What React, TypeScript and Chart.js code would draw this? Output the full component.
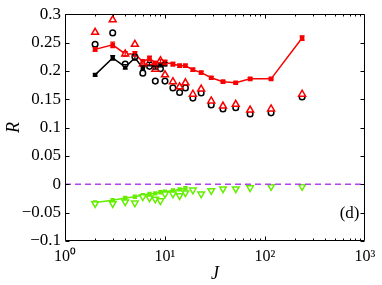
import React, { useEffect, useRef } from 'react';
import { Chart, registerables } from 'chart.js';
Chart.register(...registerables);

// ---- data ----
const ptJ = [2, 3, 4, 5, 6, 7, 8, 9, 10, 12, 14, 16, 19, 23, 29, 38, 51, 71, 115, 235];
const redLineR = [0.238, 0.246, 0.230, 0.230, 0.216, 0.222, 0.214, 0.217, 0.215, 0.212, 0.209, 0.209, 0.202, 0.197, 0.188, 0.181, 0.179, 0.186, 0.186, 0.258];
const redLineErr = [0.003, 0.005, 0.004, 0.004, 0.004, 0.004, 0.003, 0.003, 0.004, 0.003, 0.003, 0.003, 0.003, 0.002, 0.002, 0.002, 0.002, 0.002, 0.002, 0.004];
const blackJ = [2, 3, 4, 5, 6, 7, 8, 9, 10];
const blackLineR = [0.193, 0.223, 0.207, 0.223, 0.205, 0.212, 0.206, 0.210, 0.212];
const blackLineErr = [0.002, 0.004, 0.004, 0.004, 0.004, 0.003, 0.003, 0.003, 0.003];
const redTriR = [0.268, 0.290, 0.230, 0.247, 0.212, 0.215, 0.203, 0.218, 0.193, 0.181, 0.172, 0.179, 0.159, 0.168, 0.147, 0.138, 0.141, 0.131, 0.133, 0.159];
const blackCircR = [0.247, 0.267, 0.212, 0.225, 0.196, 0.208, 0.182, 0.204, 0.182, 0.170, 0.162, 0.170, 0.152, 0.161, 0.140, 0.133, 0.135, 0.124, 0.126, 0.154];
const greenTriR = [-0.034, -0.034, -0.031, -0.033, -0.022, -0.024, -0.026, -0.029, -0.017, -0.017, -0.020, -0.015, -0.010, -0.017, -0.011, -0.008, -0.008, -0.006, -0.004, -0.004];
const greenJ = [2, 3, 4, 5, 6, 7, 8, 9, 10, 12, 14, 16];
const greenLineR = [-0.032, -0.028, -0.024, -0.022, -0.019, -0.017, -0.016, -0.014, -0.013, -0.011, -0.009, -0.007];
const zeroJ = [1, 1000];
const zeroR = [0, 0];

const xMajor = [1, 10, 100, 1000];
const xLabels = ['10⁰', '10¹', '10²', '10³'];
const yTicks = [-0.1, -0.05, 0, 0.05, 0.1, 0.15, 0.2, 0.25, 0.3];
const panelLabel = '(d)';

const SERIF = '"Liberation Serif", "Times New Roman", serif';
const RED = '#f80000';
const GREEN = '#66ee00';
const PURPLE = '#b040f0';

const pts = (xs: number[], ys: number[]) => xs.map((x, i) => ({ x, y: ys[i] }));

const fmtY = (v: number) => {
  const s = String(Number(v.toFixed(2)));
  return s.replace('-', '\u2212');
};

const errPlugin = {
  id: 'errbars',
  afterDatasetsDraw(chart: any) {
    const { ctx, scales } = chart;
    const xs = scales.x, ys = scales.y;
    const draw = (J: number[], R: number[], E: number[], color: string) => {
      ctx.save();
      ctx.strokeStyle = color;
      ctx.lineWidth = 1.2;
      J.forEach((j, i) => {
        const px = xs.getPixelForValue(j);
        const y1 = ys.getPixelForValue(R[i] - E[i]);
        const y2 = ys.getPixelForValue(R[i] + E[i]);
        ctx.beginPath();
        ctx.moveTo(px, y1); ctx.lineTo(px, y2);
        ctx.moveTo(px - 2.5, y1); ctx.lineTo(px + 2.5, y1);
        ctx.moveTo(px - 2.5, y2); ctx.lineTo(px + 2.5, y2);
        ctx.stroke();
      });
      ctx.restore();
    };
    draw(blackJ, blackLineR, blackLineErr, '#000');
    draw(ptJ, redLineR, redLineErr, RED);
  },
};

const boxPlugin = {
  id: 'boxticks',
  afterDraw(chart: any) {
    const { ctx, chartArea: a, scales } = chart;
    const xs = scales.x, ys = scales.y;
    ctx.save();
    ctx.strokeStyle = '#000';
    ctx.lineWidth = 1;
    const L = Math.round(a.left) + 0.5, R = Math.round(a.right) - 0.5;
    const T = Math.round(a.top) + 0.5, B = Math.round(a.bottom) - 0.5;
    ctx.beginPath();
    ctx.rect(L, T, R - L, B - T);
    ctx.stroke();
    ctx.beginPath();
    yTicks.forEach((v) => {
      const py = Math.round(ys.getPixelForValue(v)) + 0.5;
      ctx.moveTo(L, py); ctx.lineTo(L + 4, py);
      ctx.moveTo(R, py); ctx.lineTo(R - 4, py);
    });
    for (let d = 1; d < 1000; d *= 10) {
      for (let m = 1; m <= 9; m++) {
        const v = d * m;
        const px = Math.round(xs.getPixelForValue(v)) + 0.5;
        const len = m === 1 ? 4 : 2;
        ctx.moveTo(px, B); ctx.lineTo(px, B - len);
        ctx.moveTo(px, T); ctx.lineTo(px, T + len);
      }
    }
    ctx.stroke();
    ctx.fillStyle = '#000';
    ctx.font = `17px ${SERIF}`;
    ctx.textAlign = 'right';
    ctx.textBaseline = 'middle';
    ctx.fillText(panelLabel, R - 5, ys.getPixelForValue(-0.052));
    ctx.restore();
  },
};

export default function App() {
  const ref = useRef<HTMLCanvasElement | null>(null);
  useEffect(() => {
    if (!ref.current) return;
    const chart = new Chart(ref.current, {
      type: 'scatter',
      data: {
        datasets: [
          {
            data: pts(zeroJ, zeroR), showLine: true, borderColor: PURPLE, borderWidth: 1.5,
            borderDash: [6, 4], pointRadius: 0, order: 1,
          },
          {
            data: pts(ptJ, greenTriR), showLine: false, pointStyle: 'triangle', rotation: 180,
            pointRadius: 3.8, borderColor: GREEN, backgroundColor: '#fff', borderWidth: 1.5, order: 2,
          },
          {
            data: pts(greenJ, greenLineR), showLine: true, borderColor: GREEN, borderWidth: 1.5,
            pointStyle: 'rect', pointRadius: 2, backgroundColor: GREEN, pointBorderColor: GREEN, order: 3,
          },
          {
            data: pts(ptJ, redTriR), showLine: false, pointStyle: 'triangle',
            pointRadius: 4, borderColor: RED, backgroundColor: '#fff', borderWidth: 1.5, order: 4,
          },
          {
            data: pts(ptJ, blackCircR), showLine: false, pointStyle: 'circle',
            pointRadius: 2.8, borderColor: '#000', backgroundColor: '#fff', borderWidth: 1.5, order: 5,
          },
          {
            data: pts(ptJ, redLineR), showLine: true, borderColor: RED, borderWidth: 1.5,
            pointStyle: 'rect', pointRadius: 2.2, backgroundColor: RED, pointBorderColor: RED, order: 6,
          },
          {
            data: pts(blackJ, blackLineR), showLine: true, borderColor: '#000', borderWidth: 1.5,
            pointStyle: 'rect', pointRadius: 2, backgroundColor: '#000', pointBorderColor: '#000', order: 7,
          },
        ],
      },
      options: {
        responsive: false,
        animation: false,
        layout: { padding: { left: 0, right: 17, top: 13, bottom: 0 } },
        plugins: { legend: { display: false }, tooltip: { enabled: false } },
        scales: {
          x: {
            type: 'logarithmic', min: 1, max: 1000,
            grid: { display: false, drawTicks: false },
            border: { display: false },
            afterBuildTicks: (s: any) => { s.ticks = xMajor.map((v) => ({ value: v })); },
            ticks: {
              autoSkip: false, maxRotation: 0, padding: 6, color: '#000',
              font: { family: SERIF, size: 16 },
              callback: (v: any) => { const i = xMajor.indexOf(Number(v)); return i >= 0 ? xLabels[i] : ''; },
            },
            title: { display: true, text: 'J', color: '#000', padding: 0, font: { family: SERIF, size: 18, style: 'italic' } },
            afterFit: (s: any) => { s.height = 44; },
          },
          y: {
            min: -0.1, max: 0.3,
            grid: { display: false, drawTicks: false },
            border: { display: false },
            afterBuildTicks: (s: any) => { s.ticks = yTicks.map((v) => ({ value: v })); },
            ticks: {
              autoSkip: false, padding: 4, color: '#000',
              font: { family: SERIF, size: 17 },
              callback: (v: any) => fmtY(Number(v)),
            },
            title: { display: true, text: 'R', color: '#000', padding: 3, font: { family: SERIF, size: 18, style: 'italic' } },
            afterFit: (s: any) => { s.width = 65; },
          },
        },
      },
      plugins: [errPlugin, boxPlugin],
    } as any);
    return () => chart.destroy();
  }, []);
  return (
    <div style={{ position: 'fixed', left: 0, top: 0, width: 382, height: 285, background: '#fff' }}>
      <canvas ref={ref} width={382} height={285} />
    </div>
  );
}
